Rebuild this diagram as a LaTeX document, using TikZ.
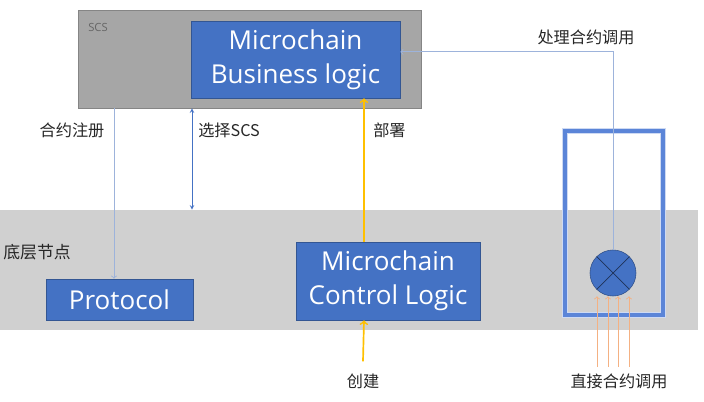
\documentclass[tikz,border=0pt]{standalone}
\usepackage{fontspec}
\setmainfont{Open Sans}
\newfontfamily\zh{Noto Sans CJK SC}
\usetikzlibrary{calc}

\definecolor{boxblue}{HTML}{4472C4}
\definecolor{linkblue}{HTML}{9DB3DB}
\definecolor{frameblue}{HTML}{5B85D8}
\definecolor{deploy}{HTML}{FFC000}
\definecolor{callorange}{HTML}{F4B183}
\definecolor{scsgray}{HTML}{A6A6A6}
\definecolor{bandgray}{HTML}{D0D0D0}

\tikzset{
  blk/.style={draw=boxblue!75!black,rectangle,fill=boxblue,text=white,align=center,inner sep=0pt,font=\fontsize{18.5}{26}\selectfont},
  lbl/.style={font=\zh\fontsize{11.5}{13}\selectfont,inner sep=0pt,text=black!85},
  link/.style={draw=linkblue,line width=0.6pt,->}
}

\begin{document}
\begin{tikzpicture}
\useasboundingbox (0,0) rectangle (17.6,-10.05);
% layers
\node[draw=scsgray!80!black,rectangle,fill=scsgray,minimum width=8.575cm,minimum height=2.45cm] (SCS) at (6.2375,-1.475) {};
\node[anchor=west,text=black!60,font=\fontsize{8}{9}\selectfont,inner sep=0pt] (SCSL) at (2.2,-0.675) {SCS};
\node[rectangle,fill=bandgray,minimum width=17.45cm,minimum height=3cm] (BAND) at (8.725,-6.75) {};
\node[lbl,anchor=west,font=\zh\fontsize{12}{13}\selectfont] (BANDL) at (0.075,-6.3) {底层节点};

% blocks
\node[blk,minimum width=5.225cm,minimum height=1.925cm] (BIZ) at (7.3875,-1.4875) {\raisebox{-2pt}{Microchain}\\Business logic};
\node[blk,minimum width=3.675cm,minimum height=1.025cm] (PRO) at (2.9875,-7.4875) {Protocol};
\node[blk,minimum width=4.6cm,minimum height=1.95cm] (CTL) at (9.7,-7.025) {\raisebox{-2pt}{Microchain}\\Control Logic};

% call box
\node[draw=frameblue,line width=2.4pt,preaction={draw=frameblue!30,line width=4.5pt},rectangle,minimum width=2.45cm,minimum height=4.6cm] (FRM) at (15.35,-5.575) {};
\node[draw=boxblue!70!black,circle,fill=boxblue,minimum size=1.15cm] (CIR) at (15.325,-6.825) {};
\draw[boxblue!45!black,line width=0.5pt] (CIR.north west) -- (CIR.south east);
\draw[boxblue!45!black,line width=0.5pt] (CIR.north east) -- (CIR.south west);

% links
\draw[link] (CIR.north) |- ($(BIZ.east)+(0,0.19)$);
\node[lbl] (RUN) at (14.65,-0.925) {处理合约调用};
\draw[link] (SCS.south -| 2.85,0) -- (PRO.north -| 2.85,0);
\node[lbl] (REG) at (1.8,-3.25) {合约注册};
\draw[boxblue,line width=0.5pt,<->,>=stealth] (SCS.south -| 4.8,0) -- (BAND.north -| 4.8,0);
\node[lbl,anchor=west] (SEL) at (4.95,-3.25) {选择SCS};
\draw[deploy,line width=1.2pt,->] (CTL.north -| 9.1,0) -- (BIZ.south -| 9.1,0);
\node[lbl,anchor=west] (DEP) at (9.325,-3.25) {部署};
\node[lbl] (NEW) at (9.075,-9.525) {创建};
\draw[deploy,line width=1.2pt,->] ($(NEW.north)+(0,-0.05)$) ++(0,0.35) -- (CTL.south -| 9.1,0);
\node[lbl] (DIR) at (15.475,-9.525) {直接合约调用};
\foreach\x in {14.925,15.2,15.45,15.725} {
  \draw[callorange,line width=0.6pt,->] (DIR.north -| \x,0) ++(0,0.15) -- (CIR.south -| \x,0);
}
\end{tikzpicture}
\end{document}
